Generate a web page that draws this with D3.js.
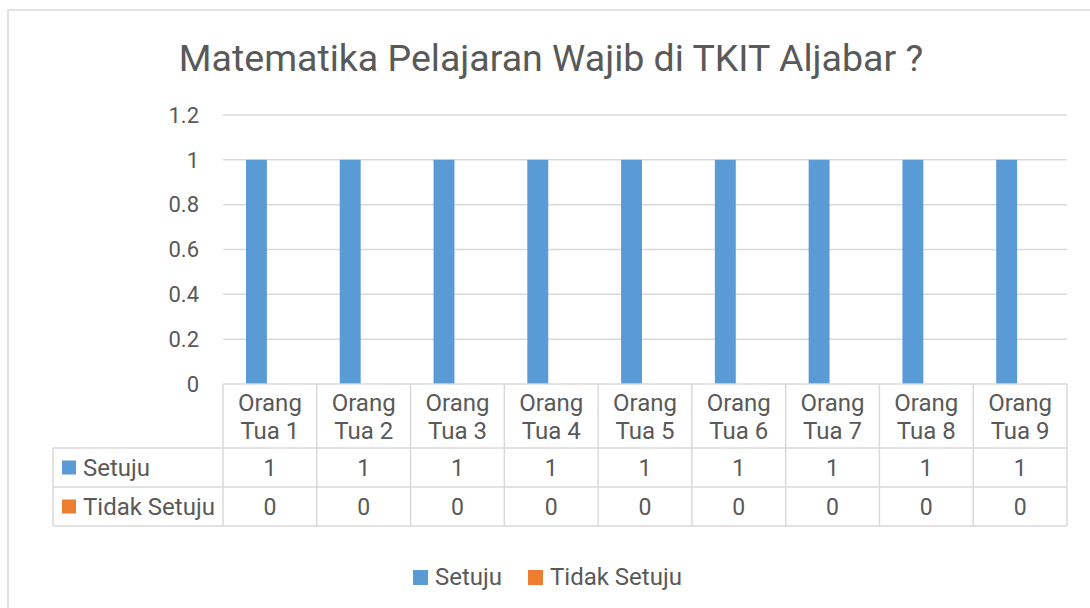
<!DOCTYPE html>
<html lang="en">
<head>
  <meta charset="utf-8">
  <title>Matematika Pelajaran Wajib</title>
  <script src="https://d3js.org/d3.v7.min.js"></script>
  <style>
    body { margin: 0; background: #fff; }
    text { font-family: Roboto, "Noto Sans", sans-serif; fill: #595959; }
  </style>
</head>
<body>
	<script type="text/javascript">

		// chart data
		var categories = ["Orang Tua 1", "Orang Tua 2", "Orang Tua 3", "Orang Tua 4", "Orang Tua 5",
		                  "Orang Tua 6", "Orang Tua 7", "Orang Tua 8", "Orang Tua 9"];
		var seriesNames = ["Setuju", "Tidak Setuju"];
		var setujuValues = [1, 1, 1, 1, 1, 1, 1, 1, 1];
		var tidakSetujuValues = [0, 0, 0, 0, 0, 0, 0, 0, 0];
		var yTicks = [0, 0.2, 0.4, 0.6, 0.8, 1, 1.2];
		var seriesColors = ["#5B9BD5", "#ED7D31"];

		var svg_width = 1090;
		var svg_height = 608;
		var plotLeft = 223, plotRight = 1067;
		var plotTop = 115, plotBottom = 384;
		var gridColor = "#d9d9d9";

		var svg = d3.select("body")
					.append("svg")
					.attr("width", svg_width)
					.attr("height", svg_height);

		// chart frame
		svg.append("rect")
		   .attr("x", 8).attr("y", 10)
		   .attr("width", 1100).attr("height", 640)
		   .attr("fill", "white")
		   .attr("stroke", gridColor)
		   .attr("stroke-width", 1.5);

		// title
		svg.append("text")
		   .text("Matematika Pelajaran Wajib di TKIT Aljabar ?")
		   .attr("x", 551)
		   .attr("y", 71)
		   .attr("text-anchor", "middle")
		   .attr("font-size", "37.5px");

		var yScale = d3.scaleLinear()
					   .domain([0, 1.2])
					   .range([plotBottom, plotTop]);

		var xScale = d3.scaleBand()
					   .domain(categories)
					   .range([plotLeft, plotRight])
					   .padding(0);

		var cw = xScale.bandwidth();
		var subScale = d3.scaleBand()
						 .domain(seriesNames)
						 .range([cw * 0.245, cw * 0.755])
						 .paddingInner(0.2222);

		// gridlines and tick labels
		svg.append("g")
		   .selectAll("line")
		   .data(yTicks.filter(function(d) { return d > 0; }))
		   .enter()
		   .append("line")
		   .attr("x1", plotLeft).attr("x2", plotRight)
		   .attr("y1", function(d) { return yScale(d); })
		   .attr("y2", function(d) { return yScale(d); })
		   .attr("stroke", gridColor)
		   .attr("stroke-width", 1.5);

		svg.append("g")
		   .selectAll("text")
		   .data(yTicks)
		   .enter()
		   .append("text")
		   .text(function(d) { return d; })
		   .attr("x", 199)
		   .attr("y", function(d) { return yScale(d); })
		   .attr("dy", "0.35em")
		   .attr("text-anchor", "end")
		   .attr("font-size", "22px");

		// bars
		var seriesData = [setujuValues, tidakSetujuValues];
		seriesNames.forEach(function(name, si) {
			svg.append("g")
			   .selectAll("rect")
			   .data(seriesData[si])
			   .enter()
			   .append("rect")
			   .attr("x", function(d, i) { return xScale(categories[i]) + subScale(name); })
			   .attr("y", function(d) { return yScale(d); })
			   .attr("width", subScale.bandwidth())
			   .attr("height", function(d) { return plotBottom - yScale(d); })
			   .attr("fill", seriesColors[si]);
		});

		// data table
		var tableLeft = 53;
		var rowLines = [plotBottom, 448, 487, 526];
		var table = svg.append("g");

		table.append("line")
			 .attr("x1", plotLeft).attr("x2", plotRight)
			 .attr("y1", rowLines[0]).attr("y2", rowLines[0]);
		rowLines.slice(1).forEach(function(y) {
			table.append("line")
				 .attr("x1", tableLeft).attr("x2", plotRight)
				 .attr("y1", y).attr("y2", y);
		});
		table.append("line")
			 .attr("x1", tableLeft).attr("x2", tableLeft)
			 .attr("y1", rowLines[1]).attr("y2", rowLines[3]);
		table.selectAll(".vline")
			 .data(categories.concat(["end"]))
			 .enter()
			 .append("line")
			 .attr("x1", function(d, i) { return plotLeft + i * cw; })
			 .attr("x2", function(d, i) { return plotLeft + i * cw; })
			 .attr("y1", rowLines[0]).attr("y2", rowLines[3]);
		table.selectAll("line")
			 .attr("stroke", gridColor)
			 .attr("stroke-width", 1.5);

		// header labels (two lines)
		categories.forEach(function(c) {
			var words = c.split(" ");
			var t = table.append("text")
						 .attr("text-anchor", "middle")
						 .attr("font-size", "24px");
			t.append("tspan")
			 .attr("x", xScale(c) + cw / 2)
			 .attr("y", 411)
			 .text(words[0]);
			t.append("tspan")
			 .attr("x", xScale(c) + cw / 2)
			 .attr("y", 439)
			 .text(words.slice(1).join(" "));
		});

		// row values
		seriesData.forEach(function(vals, si) {
			var cy = (rowLines[si + 1] + rowLines[si + 2]) / 2;
			table.append("g")
				 .selectAll("text")
				 .data(vals)
				 .enter()
				 .append("text")
				 .text(function(d) { return d; })
				 .attr("x", function(d, i) { return xScale(categories[i]) + cw / 2; })
				 .attr("y", cy)
				 .attr("dy", "0.35em")
				 .attr("text-anchor", "middle")
				 .attr("font-size", "23px");

			table.append("rect")
				 .attr("x", 62).attr("y", cy - 7)
				 .attr("width", 14).attr("height", 14)
				 .attr("fill", seriesColors[si]);
			table.append("text")
				 .text(seriesNames[si])
				 .attr("x", 83)
				 .attr("y", cy)
				 .attr("dy", "0.35em")
				 .attr("font-size", "24px");
		});

		// legend
		var legendX = [413, 528];
		var legend = svg.append("g");
		seriesNames.forEach(function(name, si) {
			legend.append("rect")
				  .attr("x", legendX[si]).attr("y", 570)
				  .attr("width", 15).attr("height", 15)
				  .attr("fill", seriesColors[si]);
			legend.append("text")
				  .text(name)
				  .attr("x", legendX[si] + 22)
				  .attr("y", 577)
				  .attr("dy", "0.35em")
				  .attr("font-size", "24px");
		});
	</script>
</body>
</html>
